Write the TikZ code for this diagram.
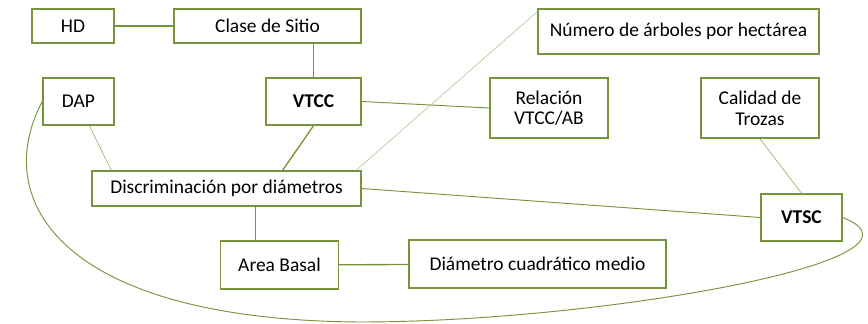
\documentclass[tikz,border=0pt]{standalone}
\usepackage{fontspec}
\setmainfont{Carlito}
\usetikzlibrary{positioning}
\definecolor{olive}{HTML}{77933C}
\definecolor{paleolive}{HTML}{B5C48F}
\tikzset{
  box/.style={draw=olive, line width=1.1pt, fill=white, rectangle, align=center, inner sep=2pt, font=\fontsize{14.6}{15.5}\selectfont},
  link/.style={draw=olive, line width=1pt},
  thinlink/.style={draw=olive, line width=0.7pt},
  faintlink/.style={draw=paleolive, line width=0.45pt}
}
\begin{document}
\begin{tikzpicture}[x=0.75pt, y=-0.75pt]
\useasboundingbox (0,0) rectangle (868,324);
% top row
\node[box, minimum width=61.5pt, minimum height=25.5pt] (hd) at (73,26) {HD};
\node[box, minimum width=140.25pt, minimum height=25.5pt] (clase) at (267.5,26) {Clase de Sitio};
\node[box, minimum width=210.75pt, minimum height=33.75pt] (num) at (678.5,31.5) {Número de árboles por hectárea};

% second row
\node[box, minimum width=53.25pt, minimum height=35.25pt] (dap) at (78.5,101.5) {DAP};
\node[box, minimum width=71.25pt, minimum height=35.25pt, font=\fontsize{14.6}{15.5}\selectfont\bfseries] (vtcc) at (313.5,101.5) {VTCC};
\node[box, minimum width=88.5pt, minimum height=45pt] (rel) at (549,108) {Relación\\VTCC/AB};
\node[box, minimum width=88.5pt, minimum height=45pt] (cal) at (760,108) {Calidad de\\Trozas};

% lower rows
\node[box, minimum width=201.75pt, minimum height=26.25pt] (disc) at (226.5,188.5) {Discriminación por diámetros};
\node[box, minimum width=60.75pt, minimum height=35.25pt, font=\fontsize{14.6}{15.5}\selectfont\bfseries] (vtsc) at (801.5,217.5) {VTSC};
\node[box, minimum width=88.5pt, minimum height=36pt] (area) at (279.5,265) {Area Basal};
\node[box, minimum width=192.75pt, minimum height=36pt] (dcm) at (537.5,264) {Diámetro cuadrático medio};

% connectors
\draw[link] (hd) -- (clase);
\draw[link] (vtcc.north) -- (vtcc.north |- clase.south);
\draw[link] (vtcc.south) -- (disc.18);
\draw[link] (area.134) -- (area.134 |- disc.south);
\draw[link] (area) -- (dcm);
\draw[thinlink] (vtcc.east) -- (rel.west);
\draw[thinlink] (disc.east) -- (vtsc.west);
\draw[faintlink, draw=olive!80] (dap.-66) -- (disc.171);
\draw[faintlink, draw=olive!80] (cal.south) -- (vtsc.north);
\draw[faintlink] (num.172) -- (disc.8);

% long curve under the diagram
\coordinate (low) at (360,322);
\draw[thinlink] (dap.west) .. controls (-10,200) and (60,320) .. (low)
  .. controls (600,322) and (950,260) .. (vtsc.east);
\end{tikzpicture}
\end{document}
